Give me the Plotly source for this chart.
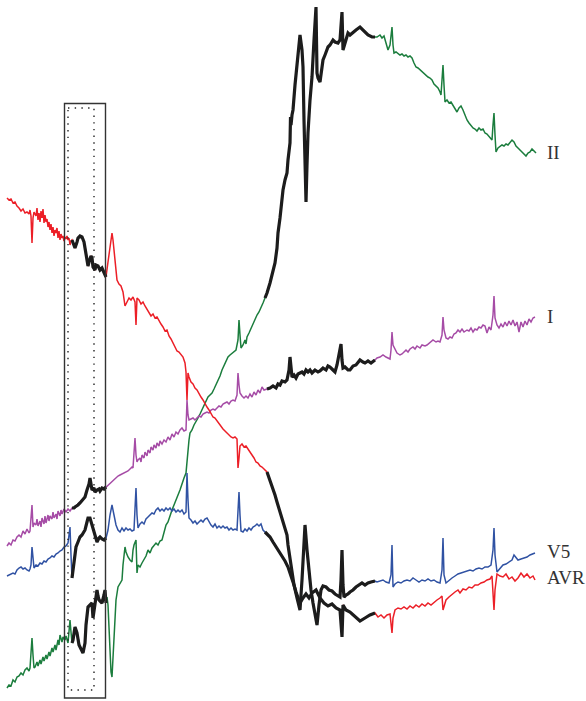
import plotly.graph_objects as go

# ---------------- data (sample index, level; level axis is drawn downward) ----------------
avr_t = [7,9,11,13,15,17,19,21,23,25,27,29,30,31,32,33,34,36,37,38,39,40,41,42,43,44,45,46,47,48,49,50,
         51,52,53,54,55,56,57,58,59,60,61,62,63,64,65,66,67,68,69,70,71,72,
         74,75,77,78,80,82,84,86,88,89,91,92,93,95,96,98,100,102,104,106,
         108,110,112,113,115,117,119,121,123,125,127,129,131,133,135,136,137,139,141,143,
         145,147,149,151,153,155,157,159,161,163,165,167,169,171,173,175,177,179,181,183,
         185,186,187,188,189,191,193,195,197,199,201,203,205,207,209,211,213,215,217,219,
         221,223,225,227,229,231,233,235,237,238,239,240,242,244,246,248,250,252,254,256,
         258,260,262,264,267,
         270,272,275,277,279,281,283,285,287,288,290,292,294,296,298,300,303,306,309,312,
         316,320,324,328,332,336,340,341,342,343,346,350,355,360,365,370,375,
         378,381,384,387,390,392,393,395,398,401,404,407,410,413,416,419,422,425,428,431,
         434,437,440,442,443,444,446,449,452,455,458,460,463,466,469,472,475,478,481,484,
         487,490,492,494,495,497,500,503,506,509,512,515,518,521,524,527,530,533,535]
avr_v = [198,200,199,203,202,206,208,211,209,213,212,214,210,216,243,218,212,216,208,220,213,222,211,218,209,223,215,222,219,227,222,230,
         224,233,227,236,230,233,228,238,231,240,234,238,236,241,237,239,236,240,238,245,241,240,
         246,248,242,238,236,237,242,252,266,262,256,258,267,270,265,266,270,268,272,277,
         262,245,233,240,262,280,284,286,292,306,302,298,300,297,302,325,298,300,304,302,
         306,309,312,316,314,318,317,321,324,327,331,330,336,339,343,347,351,352,355,357,
         363,372,400,373,377,382,384,388,390,394,397,400,404,407,410,414,417,418,421,423,
         426,429,431,433,436,437,438,437,439,468,458,446,444,447,446,449,451,454,458,462,
         463,466,467,469,472,
         480,487,495,502,509,515,521,528,535,545,560,575,585,592,598,603,598,594,598,593,
         590,598,603,606,604,608,610,625,637,605,610,612,617,621,618,615,613,
         617,615,618,615,614,633,618,610,608,609,607,609,606,608,605,607,604,606,603,605,
         602,600,598,596,610,606,600,597,594,592,590,593,589,590,587,588,585,585,583,582,
         580,579,576,610,590,574,576,577,574,579,577,581,578,573,577,574,578,576,580]

v5_t = [7,9,11,13,15,17,19,21,23,25,27,29,30,31,32,33,34,36,38,40,42,44,46,48,50,52,54,56,58,60,
        62,64,66,68,69,70,71,72,
        73,74,76,78,80,82,85,87,88,90,92,94,96,97,99,100,102,104,106,
        108,110,112,114,116,118,120,122,124,126,128,130,132,134,135,136,137,138,140,142,
        144,146,148,150,152,154,156,158,160,162,164,166,168,170,172,174,176,178,180,182,
        184,186,187,188,189,191,193,195,197,199,201,203,205,207,209,211,213,215,217,219,
        221,223,225,227,229,231,233,235,237,238,239,240,241,243,245,247,249,251,253,255,
        257,259,261,263,265,
        268,270,273,275,278,280,283,285,288,291,294,297,300,302,303,305,307,309,311,313,
        315,317,319,321,323,326,329,332,335,338,340,341,342,343,344,346,348,350,353,356,
        359,362,365,368,371,375,
        377,380,383,386,389,391,392,393,395,398,401,404,407,410,413,416,419,422,425,428,
        431,434,437,440,442,443,444,446,449,452,455,458,461,464,467,470,473,476,479,482,
        485,488,491,493,494,495,497,500,503,506,509,512,514,516,518,521,524,527,530,533,535]
v5_v = [576,575,574,573,574,570,568,567,569,568,570,571,569,565,547,563,568,565,566,563,564,561,562,559,558,556,557,554,553,551,
        550,547,546,543,535,527,555,578,
        570,560,547,542,537,535,530,522,518,518,525,532,538,542,538,537,539,540,538,
        530,515,505,515,525,530,532,528,531,528,530,529,531,530,510,488,515,528,524,522,
        524,519,517,515,513,514,510,508,511,509,511,508,510,508,511,509,512,510,512,510,
        514,512,473,500,518,520,523,521,524,522,520,522,519,518,522,525,527,524,528,526,
        528,526,528,527,530,528,530,529,530,510,492,515,531,532,529,531,528,530,527,526,
        524,526,524,530,532,
        535,537,542,545,550,553,558,561,567,575,585,598,610,580,560,525,550,575,590,603,
        615,625,605,590,586,587,590,591,594,596,597,580,550,585,597,595,594,592,590,587,
        585,583,585,583,582,581,
        582,581,580,582,583,575,545,587,584,582,583,581,580,581,578,580,582,580,581,579,
        581,580,582,583,570,538,575,583,580,578,576,574,573,572,571,570,571,569,568,569,
        567,567,565,550,528,555,572,568,565,564,562,560,555,558,560,559,558,557,555,554,553]

i_t = [7,9,11,13,15,17,19,21,23,25,27,29,30,31,32,33,34,36,37,38,40,41,42,44,45,46,48,49,50,52,
       53,54,56,57,58,60,61,62,64,66,68,70,72,
       74,75,77,78,80,83,85,87,89,90,91,92,94,95,97,99,100,102,104,106,
       108,110,112,114,116,118,120,122,124,126,128,130,132,133,134,135,136,137,138,140,
       141,142,144,145,147,148,150,151,153,154,156,157,159,160,162,164,166,168,170,172,
       174,176,178,180,182,184,186,187,188,189,191,193,195,197,199,201,203,205,207,209,
       211,213,215,217,219,221,223,225,227,229,231,233,235,237,238,239,240,242,244,246,
       248,250,252,254,256,258,260,262,264,267,
       270,273,276,278,280,282,285,287,289,290,291,292,294,296,298,300,302,304,306,308,
       310,312,315,318,320,323,326,328,330,333,335,337,339,341,342,343,345,348,350,353,
       356,358,360,363,365,368,371,375,
       377,380,383,386,388,390,391,392,393,395,397,400,402,404,406,408,410,413,415,417,
       420,422,425,427,429,431,433,436,438,440,442,443,444,446,448,450,452,454,456,458,
       460,462,464,467,469,471,473,475,477,479,481,483,485,487,489,491,493,494,495,497,
       499,501,503,505,507,509,511,513,515,517,519,521,523,525,527,529,531,533,535]
i_v = [546,543,545,540,541,537,535,537,531,534,529,533,531,520,505,527,523,525,519,526,521,527,518,524,516,523,515,521,516,519,
       512,518,514,519,511,516,510,514,509,512,509,511,508,
       508,507,506,505,503,500,497,490,484,478,485,490,488,492,490,489,491,488,489,487,
       485,483,481,479,478,476,475,474,473,472,471,469,467,468,455,438,455,462,460,458,
       462,455,458,452,456,450,453,447,450,445,448,443,446,441,444,440,442,437,440,434,
       437,432,434,430,428,431,430,400,415,420,419,418,420,418,416,417,414,413,412,413,
       410,409,410,408,406,407,404,403,402,404,401,400,401,395,373,385,393,396,398,396,
       398,394,397,392,395,390,393,387,390,389,
       388,386,388,384,385,381,382,380,370,357,370,377,375,378,374,373,372,374,370,372,
       370,373,370,372,371,368,370,366,367,370,372,365,356,344,360,368,367,370,370,366,
       365,362,360,362,363,361,363,360,
       358,357,355,357,358,359,350,332,345,350,353,355,354,352,350,352,349,347,349,346,
       348,345,346,345,343,341,340,342,341,342,335,317,330,338,339,337,338,334,333,330,
       332,329,332,330,331,328,332,329,330,327,328,325,326,333,327,330,315,296,318,325,
       328,324,327,322,326,321,325,320,326,322,332,322,327,321,325,319,322,318,317]

ii_t = [7,9,11,13,15,17,19,21,23,25,27,29,30,31,32,33,34,35,37,38,40,41,43,44,46,47,49,50,52,53,
        55,56,58,59,60,62,63,65,66,68,69,70,71,72,
        73,75,77,79,80,82,83,84,85,86,88,90,92,93,95,97,98,99,101,102,104,105,106,
        107,108,109,110,111,112,113,114,115,116,118,120,122,123,125,126,127,128,130,132,
        133,134,136,137,138,140,142,144,146,148,150,152,154,156,158,160,162,164,166,168,
        170,172,174,176,178,180,182,184,186,187,188,189,190,192,194,196,198,200,202,204,
        206,208,210,212,214,216,218,220,222,224,226,228,230,232,234,236,238,239,240,241,
        243,245,246,247,249,251,253,255,257,259,261,263,265,
        267,270,272,275,277,278,280,282,283,285,287,288,289,290,290.5,291,292,293,295,297,
        299,300,302,303,304,305,306,307,308,310,312,314,316,317,318,320,322,323,325,328,
        330,333,335,338,340,341,342,343,345,348,350,353,356,360,363,365,368,372,375,
        377,380,382,384,386,388,390,391,392,393,394,396,398,400,402,404,406,408,410,412,
        414,416,418,420,422,424,426,428,430,432,434,436,438,440,441,442,443,444,445,447,
        449,451,453,455,457,459,461,463,465,467,469,471,473,475,477,479,481,483,485,487,
        489,491,492,493,494,495,496,498,500,502,504,506,508,510,512,514,516,518,520,522,
        524,526,528,530,532,534,536]
ii_v = [688,685,686,680,682,677,676,673,675,670,668,671,668,655,638,655,668,667,662,666,660,664,657,661,655,659,652,656,648,652,
        645,650,640,645,635,642,637,640,636,643,630,620,632,643,
        640,627,633,645,647,650,653,648,643,625,607,605,603,618,605,590,596,600,602,603,595,590,603,
        597,605,630,655,672,677,655,630,613,600,587,583,580,565,547,552,555,557,560,562,
        550,545,540,573,565,567,563,560,556,550,553,548,546,543,545,541,540,532,525,522,
        515,510,505,499,495,490,483,478,473,460,450,440,433,430,425,422,418,414,410,406,
        402,397,395,393,389,385,380,376,370,366,362,357,355,353,352,350,340,320,335,348,
        345,340,344,337,333,328,323,320,315,312,308,303,298,
        293,283,275,263,248,233,218,200,190,180,173,160,150,143,117,125,115,110,85,63,
        45,35,50,67,120,175,202,165,133,100,77,40,7,73,78,82,70,60,55,47,
        45,40,42,43,40,25,12,50,42,33,35,32,30,27,30,33,35,37,37,
        37,35,38,36,42,50,45,35,27,45,53,52,54,55,54,56,55,57,56,58,
        63,67,68,70,72,73,75,77,78,80,84,86,88,92,95,80,65,85,102,100,
        103,102,105,108,112,108,106,110,116,120,123,126,128,129,131,128,130,129,133,134,
        136,139,140,125,113,135,152,148,146,145,146,144,145,142,140,142,146,148,150,152,
        154,156,153,152,149,151,153]

lead_names = ["II", "I", "V5", "AVR"]
lead_colors = ["#1b7d3d", "#a64ca6", "#3052a3", "#ec1f27"]
highlight_color = "#1c1c1c"
box_window = (72, 106)
mid_windows = {"II": (265, 375), "I": (267, 375), "V5": (265, 375), "AVR": (267, 375)}
lead_data = {"II": (ii_t, ii_v), "I": (i_t, i_v), "V5": (v5_t, v5_v), "AVR": (avr_t, avr_v)}
label_pos = {"II": (545, 152), "I": (545, 316), "V5": (545, 551), "AVR": (545, 577)}

for k, (t, v) in lead_data.items():
    assert len(t) == len(v), (k, len(t), len(v))

fig = go.Figure()
for name, col in zip(lead_names, lead_colors):
    t, v = lead_data[name]
    fig.add_trace(go.Scatter(x=t, y=v, mode="lines", line=dict(color=col, width=1.5),
                             hoverinfo="skip", showlegend=False))
for name in lead_names:
    t, v = lead_data[name]
    for (a, b) in (box_window, mid_windows[name]):
        xs = [tt for tt in t if a <= tt <= b]
        ys = [vv for tt, vv in zip(t, v) if a <= tt <= b]
        fig.add_trace(go.Scatter(x=xs, y=ys, mode="lines",
                                 line=dict(color=highlight_color, width=3.2),
                                 hoverinfo="skip", showlegend=False))

# window box and dotted inner frame
fig.add_shape(type="rect", x0=64.5, x1=105.5, y0=103.5, y1=698,
              line=dict(color="#333333", width=1.4), layer="above")
fig.add_shape(type="rect", x0=68, x1=94, y0=108, y1=690,
              line=dict(color="#222222", width=1.4, dash="1.4px,5.3px"), layer="above")

for name in lead_names:
    x, y = label_pos[name]
    fig.add_annotation(x=x, y=y, text=name, showarrow=False, xanchor="left", yanchor="middle",
                       font=dict(family="Liberation Serif", size=19, color="#333333"))

fig.update_layout(width=586, height=701, margin=dict(l=0, r=0, t=0, b=0),
                  paper_bgcolor="white", plot_bgcolor="white", showlegend=False,
                  xaxis=dict(range=[0, 586], visible=False, fixedrange=True),
                  yaxis=dict(range=[701, 0], visible=False, fixedrange=True))

fig.write_html("out.html", config={"displayModeBar": False, "staticPlot": True},
               post_script="document.body.style.margin='0';document.body.style.overflow='hidden';")
